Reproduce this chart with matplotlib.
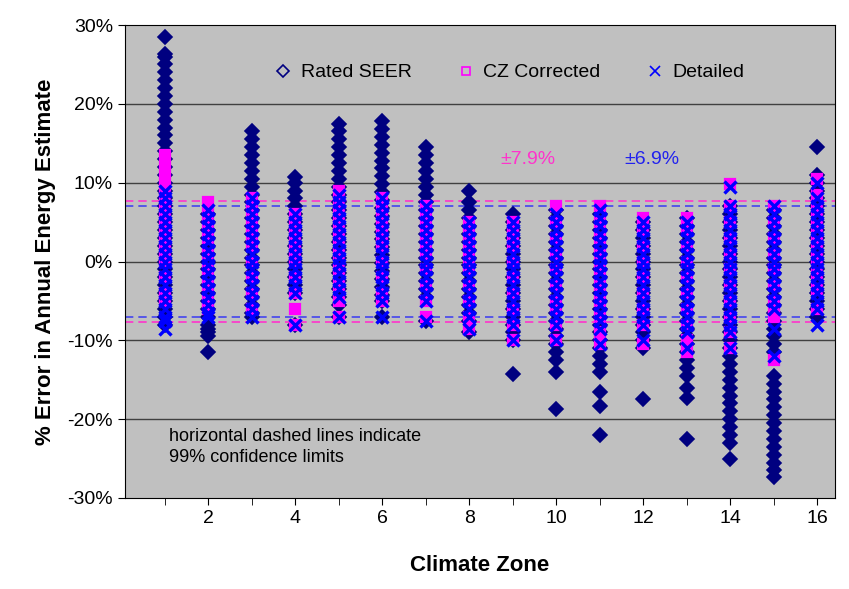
import matplotlib.pyplot as plt
from matplotlib.ticker import FixedLocator, PercentFormatter

plt.rcParams["font.family"] = ["Liberation Sans", "DejaVu Sans"]
plt.rcParams["axes.unicode_minus"] = False

# values, per climate zone (% error)
zones = list(range(1, 17))

rated_seer = [
    [28.5, 26.3, 26, 25, 24, 23, 22, 21, 20, 19, 18, 17, 16, 15, 14, 13, 12, 11, 10, 9, 8, 7, 6, 5, 4, 3, 2, 1, 0, -1, -2, -3, -4, -5, -6, -7, -8],
    [6, 5, 4, 3, 2, 1, 0, -1, -2, -3, -4, -5, -6, -7, -8, -8.5, -9, -9.5, -11.5],
    [16.5, 15.5, 14.5, 13.5, 12.5, 11.5, 10.5, 9.5, 8.5, 7.5, 6.5, 5.5, 4.5, 3.5, 2.5, 1.5, 0.5, -0.5, -1.5, -2.5, -3.5, -4.5, -5.5, -6.5, -7],
    [10.7, 10, 9, 8, 7, 6, 5, 4, 3, 2, 1, 0, -1, -2, -3, -4, -8],
    [17.5, 16.5, 15.5, 14.5, 13.5, 12.5, 11.5, 10.5, 9.5, 8.5, 7.5, 6.5, 5.5, 4.5, 3.5, 2.5, 1.5, 0.5, -0.5, -1.5, -2.5, -3.5, -4.5, -5.5, -7],
    [17.8, 16.8, 15.8, 14.8, 13.8, 12.8, 11.8, 10.8, 9.8, 8.8, 7.8, 6.8, 5.8, 4.8, 3.8, 2.8, 1.8, 0.8, -0.2, -1.2, -2.2, -3.2, -4.2, -5, -7],
    [14.5, 13.5, 12.5, 11.5, 10.5, 9.5, 8.5, 7.5, 6.5, 5.5, 4.5, 3.5, 2.5, 1.5, 0.5, -0.5, -1.5, -2.5, -3.5, -4.5, -7.5],
    [9, 7.5, 6.5, 5.5, 4.5, 3.5, 2.5, 1.5, 0.5, -0.5, -1.5, -2.5, -3.5, -4.5, -5.5, -6.5, -7.5, -9],
    [6, 5, 4, 3, 2, 1, 0, -1, -2, -3, -4, -5, -6, -7, -8, -9, -10, -14.3],
    [6.5, 5.5, 4.5, 3.5, 2.5, 1.5, 0.5, -0.5, -1.5, -2.5, -3.5, -4.5, -5.5, -6.5, -7.5, -8.5, -9.5, -10.5, -11.5, -12.5, -14, -18.7],
    [6, 5, 4, 3, 2, 1, 0, -1, -2, -3, -4, -5, -6, -7, -8, -9, -10, -11, -12, -13, -14, -16.5, -18.3, -22],
    [5, 4, 3, 2, 1, 0, -1, -2, -3, -4, -5, -6, -7, -8, -9, -10, -11, -17.5],
    [5.5, 4.5, 3.5, 2.5, 1.5, 0.5, -0.5, -1.5, -2.5, -3.5, -4.5, -5.5, -6.5, -7.5, -8.5, -9.5, -10.5, -11.5, -12.5, -13.5, -14.5, -16, -17.3, -22.5],
    [7, 6, 5, 4, 3, 2, 1, 0, -1, -2, -3, -4, -5, -6, -7, -8, -9, -10, -11, -12, -13, -14, -15, -16, -17, -18, -19, -20, -21, -22, -23, -25],
    [6.5, 5.5, 4.5, 3.5, 2.5, 1.5, 0.5, -0.5, -1.5, -2.5, -3.5, -4.5, -5.5, -6.5, -7.5, -8.5, -9.5, -10.5, -11.5, -14.5, -15.5, -16.5, -17.5, -18.5, -19.5, -20.5, -21.5, -22.5, -23.5, -24.5, -25.5, -26.5, -27.3],
    [14.5, 11, 10, 9, 8, 7, 6, 5, 4, 3, 2, 1, 0, -1, -2, -3, -4, -5, -6, -7],
]

cz_corrected = [
    [13.5, 12, 10.5, 9, 7.5, 6, 4.5, 3, 1.5, 0, -2, -4, -5],
    [7.5, 6, 4.5, 3, 1, -1, -3, -5, -6],
    [8, 6.5, 5, 3.5, 2, 0, -2, -4, -6],
    [6, 4.5, 3, 1.5, 0, -2, -4, -6, -8],
    [9, 7.5, 6, 4.5, 3, 1, -1, -3, -5, -7],
    [8, 6.5, 5, 3.5, 2, 0, -2, -4, -5],
    [7, 5.5, 4, 2.5, 1, -1, -3, -5, -7],
    [5, 3.5, 2, 0.5, -1, -3, -5, -7, -8.5],
    [5, 3.5, 2, 0, -2, -4, -6, -8, -10],
    [7, 5, 3, 1, -1, -3, -5, -6, -8, -10],
    [7, 5, 3, 1, -1, -3, -5, -7, -9, -10.5],
    [5.5, 4, 2, 0, -2, -4, -6, -8, -10.5],
    [5.5, 4, 2, 0, -2, -4, -6, -8, -10, -11.5],
    [9.8, 7, 5, 3, 1, -1, -3, -5, -7, -9, -11],
    [7, 5, 3, 1, -1, -3, -5, -6, -7, -12.5],
    [10.5, 8.5, 6.5, 4.5, 2.5, 0.5, -1.5, -3.5, -6],
]

detailed = [
    [9, 8, 7, 6, 5, 4, 3, 2, 1, 0, -1, -2, -3, -4, -5, -6, -7, -7.5, -8.5],
    [6.5, 5.5, 4.5, 3.5, 2.5, 1.5, 0.5, -0.5, -1.5, -2.5, -3.5, -4.5, -5.5, -6.5, -7],
    [8, 7, 6, 5, 4, 3, 2, 1, 0, -1, -2, -3, -4, -5, -6, -7],
    [6, 5, 4, 3, 2, 1, 0, -1, -2, -3, -4, -8],
    [8.5, 7.5, 6.5, 5.5, 4.5, 3.5, 2.5, 1.5, 0.5, -0.5, -1.5, -2.5, -3.5, -4.5, -7],
    [8, 7, 6, 5, 4, 3, 2, 1, 0, -1, -2, -3, -4, -5, -7],
    [7, 6, 5, 4, 3, 2, 1, 0, -1, -2, -3, -4, -5, -7.5],
    [5, 4, 3, 2, 1, 0, -1, -2, -3, -4, -5, -6, -7, -8.5],
    [5, 4, 3, 2, 1, 0, -1, -2, -3, -4, -5, -6, -7, -8, -10],
    [6, 5, 4, 3, 2, 1, 0, -1, -2, -3, -4, -5, -6, -7, -8, -10],
    [6.5, 5.5, 4.5, 3.5, 2.5, 1.5, 0.5, -0.5, -1.5, -2.5, -3.5, -4.5, -5.5, -6.5, -7.5, -8.5, -10.5],
    [5, 4, 3, 2, 1, 0, -1, -2, -3, -4, -5, -6, -7, -8, -10],
    [5, 4, 3, 2, 1, 0, -1, -2, -3, -4, -5, -6, -7, -8, -9, -11],
    [9.5, 7, 6, 5, 4, 3, 2, 1, 0, -1, -2, -3, -4, -5, -6, -7, -8, -9, -11],
    [7, 6, 5, 4, 3, 2, 1, 0, -1, -2, -3, -4, -5, -6, -8.5, -12],
    [10, 8, 7, 6, 5, 4, 3, 2, 1, 0, -1, -2, -3, -4, -5, -6, -8],
]

cz_limit = 7.7
detailed_limit = 7.0


def flatten(series):
    xs, ys = [], []
    for z, vals in zip(zones, series):
        xs += [z] * len(vals)
        ys += vals
    return xs, ys


fig = plt.figure(figsize=(8.49, 5.89), dpi=100)
ax = fig.add_axes([0.147, 0.1545, 0.836, 0.803])
ax.set_facecolor("#c0c0c0")

for y in (-20, -10, 0, 10, 20):
    ax.axhline(y, color="#404040", linewidth=1, zorder=1)
for lim, col in ((cz_limit, "#ff33cc"), (detailed_limit, "#4444ee")):
    ax.axhline(lim, color=col, linewidth=1.2, linestyle=(0, (5, 3)), zorder=1)
    ax.axhline(-lim, color=col, linewidth=1.2, linestyle=(0, (5, 3)), zorder=1)

x, y = flatten(rated_seer)
ax.plot(x, y, "D", ms=7.5, mfc="#000080", mec="#000080", mew=1.2, ls="none", zorder=3)
ax.plot([], [], "D", ms=6, mfc="none", mec="#000080", mew=1.2, ls="none", label="Rated SEER")
x, y = flatten(cz_corrected)
ax.plot(x, y, "s", ms=7.5, mfc="#ff00ff", mec="#ff00ff", mew=1.6, ls="none", zorder=4)
ax.plot([], [], "s", ms=6, mfc="none", mec="#ff00ff", mew=1.2, ls="none", label="CZ Corrected")
x, y = flatten(detailed)
ax.plot(x, y, "x", ms=9, mec="#0000ff", mew=2.4, ls="none", zorder=5)
ax.plot([], [], "x", ms=7, mec="#0000ff", mew=1.2, ls="none", label="Detailed")

ax.set_xlim(0.08, 16.4)
ax.set_ylim(-30, 30)
ax.set_yticks(range(-30, 31, 10))
ax.yaxis.set_major_formatter(PercentFormatter(decimals=0))
ax.set_xticks(range(2, 17, 2))
ax.xaxis.set_minor_locator(FixedLocator(range(1, 17, 2)))
ax.tick_params(axis="both", which="both", direction="out", length=5, labelsize=14)
ax.tick_params(axis="x", which="minor", length=5)

ax.set_xlabel("Climate Zone", fontsize=16, fontweight="bold", labelpad=20)
ax.set_ylabel("% Error in Annual Energy Estimate", fontsize=16, fontweight="bold", labelpad=8)

ax.legend(loc="upper center", bbox_to_anchor=(0.54, 0.955), ncol=3, frameon=False,
          fontsize=14, handletextpad=0.3, columnspacing=2.2, handlelength=1.2)

ax.text(9.35, 13, "±7.9%", color="#ff33cc", fontsize=14, ha="center", va="center")
ax.text(12.2, 13, "±6.9%", color="#2222ee", fontsize=14, ha="center", va="center")
ax.text(1.1, -23.5, "horizontal dashed lines indicate\n99% confidence limits",
        fontsize=13, ha="left", va="center", linespacing=1.3)

fig.savefig("out.png", dpi=100)
